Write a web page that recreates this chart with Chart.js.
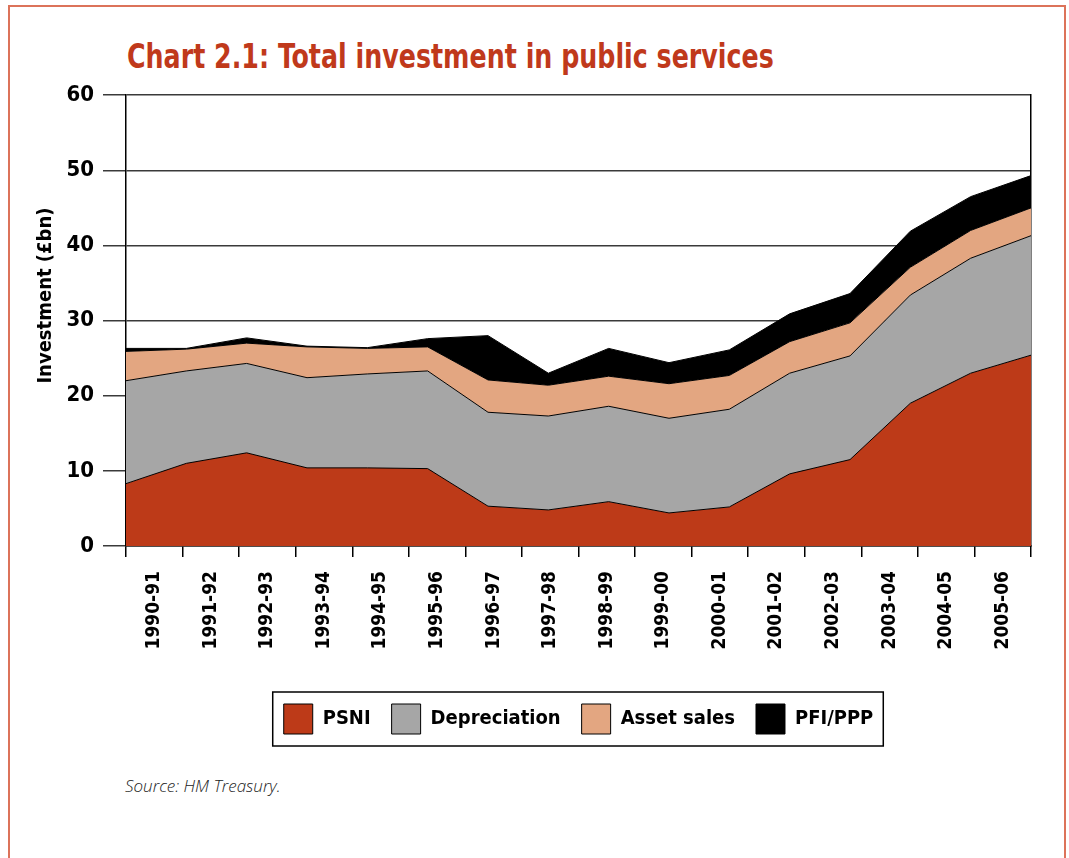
<!DOCTYPE html>
<html>
<head>
<meta charset="utf-8">
<script src="https://cdn.jsdelivr.net/npm/chart.js@4.4.1/dist/chart.umd.min.js"></script>
<style>
  html, body { margin: 0; padding: 0; background: #fff; }
  body { width: 1069px; height: 858px; position: relative; overflow: hidden; }
  .frame {
    position: absolute; left: 8px; top: 5px; width: 1054px; height: 900px;
    border: 2px solid #dc735a;
  }
  h1 {
    position: absolute; left: 127px; top: 37px; margin: 0;
    font-family: "DejaVu Sans Condensed", "Liberation Sans", sans-serif;
    font-weight: bold; font-size: 33px; color: #c0391b;
    transform: scaleX(0.853); transform-origin: left top; white-space: nowrap;
  }
  .source {
    position: absolute; left: 125px; top: 774px; margin: 0;
    font-family: "Open Sans", "Liberation Sans", sans-serif;
    font-style: italic; font-weight: 300; font-size: 17px; color: #222;
  }
  .wrap { position: absolute; left: 0; top: 73px; width: 1069px; height: 691px; }
</style>
</head>
<body>
<div class="frame"></div>
<h1>Chart 2.1: Total investment in public services</h1>
<div class="wrap"><canvas id="chart"></canvas></div>
<p class="source">Source: HM Treasury.</p>

<script>
// years on the x axis
const years = ['1990-91', '1991-92', '1992-93', '1993-94', '1994-95', '1995-96', '1996-97', '1997-98',
               '1998-99', '1999-00', '2000-01', '2001-02', '2002-03', '2003-04', '2004-05', '2005-06'];

// £bn, stacked bottom to top
const psni         = [8.3, 11.0, 12.4, 10.4, 10.4, 10.3, 5.3, 4.8, 5.9, 4.4, 5.2, 9.6, 11.5, 19.0, 23.0, 25.4];
const depreciation = [13.7, 12.3, 11.9, 12.0, 12.5, 13.0, 12.5, 12.5, 12.7, 12.6, 13.0, 13.4, 13.8, 14.4, 15.3, 15.9];
const assetSales   = [3.9, 2.9, 2.7, 4.1, 3.4, 3.2, 4.3, 4.1, 4.0, 4.6, 4.5, 4.2, 4.4, 3.7, 3.7, 3.7];
const pfiPpp       = [0.4, 0.1, 0.7, 0.1, 0.1, 1.1, 5.9, 1.6, 3.7, 2.8, 3.4, 3.7, 3.9, 4.8, 4.5, 4.3];

const yTicks = [0, 10, 20, 30, 40, 50, 60];

const FONT = '"DejaVu Sans Condensed", "Liberation Sans", sans-serif';

function layer(label, data, colour, fill) {
  return {
    label: label,
    data: data,
    backgroundColor: colour,
    borderColor: '#000',
    borderWidth: 1,
    fill: fill,
    pointRadius: 0,
    tension: 0,
    xAxisID: 'x'
  };
}

// box round the legend
const legendFrame = {
  id: 'legendFrame',
  afterDraw(chart) {
    const boxes = chart.legend.legendHitBoxes;
    if (!boxes || !boxes.length) return;
    const first = boxes[0], last = boxes[boxes.length - 1];
    const left = first.left - 11, right = last.left + last.width + 10;
    const top = first.top - 12, bottom = first.top + first.height + 12;
    const ctx = chart.ctx;
    ctx.save();
    ctx.strokeStyle = '#000';
    ctx.lineWidth = 1.5;
    ctx.strokeRect(left, top, right - left, bottom - top);
    ctx.restore();
  }
};

new Chart(document.getElementById('chart'), {
  type: 'line',
  data: {
    labels: years,
    datasets: [
      layer('PSNI', psni, '#bd3a18', 'origin'),
      layer('Depreciation', depreciation, '#a6a6a6', '-1'),
      layer('Asset sales', assetSales, '#e3a681', '-1'),
      layer('PFI/PPP', pfiPpp, '#000000', '-1')
    ]
  },
  options: {
    responsive: true,
    maintainAspectRatio: false,
    animation: false,
    layout: { padding: { top: 0, right: 38, bottom: 20, left: 0 } },
    plugins: {
      legend: {
        position: 'bottom',
        fullSize: false,
        labels: {
          boxWidth: 29,
          boxHeight: 30,
          padding: 21,
          color: '#000',
          font: { family: FONT, size: 20, weight: 'bold' }
        }
      },
      tooltip: { enabled: false }
    },
    scales: {
      // data points sit on the plot edges
      x: {
        type: 'category',
        display: false,
        offset: false
      },
      // labels and tick marks centred between points
      x2: {
        type: 'category',
        labels: years,
        position: 'bottom',
        offset: true,
        grid: { offset: true, drawOnChartArea: false, color: '#000', lineWidth: 1.5, tickLength: 11 },
        border: { display: true, color: '#000', width: 1.5 },
        ticks: {
          minRotation: 90, maxRotation: 90, autoSkip: false, padding: 14,
          color: '#000', font: { family: FONT, size: 19, weight: 'bold' }
        },
        afterFit(scale) { scale.height = 137; }
      },
      y: {
        stacked: true,
        min: 0, max: 60,
        afterBuildTicks(scale) { scale.ticks = yTicks.map(v => ({ value: v })); },
        grid: { color: '#3a3a3a', lineWidth: 1.5, tickLength: 23 },
        border: { display: true, color: '#000', width: 1.5 },
        ticks: {
          padding: 9,
          color: '#000', font: { family: FONT, size: 22, weight: 'bold' }
        },
        title: {
          display: true,
          // leading spaces lift the title above the axis middle
          text: '\u00a0'.repeat(8) + 'Investment (£bn)',
          color: '#000',
          padding: { top: 34, bottom: 0 },
          font: { family: FONT, size: 20, weight: 'bold' }
        },
        afterFit(scale) { scale.width = 126; }
      },
      // right-hand edge of the plot
      y2: {
        position: 'right',
        min: 0, max: 60,
        grid: { display: false },
        border: { display: true, color: '#000', width: 1.5 },
        ticks: { display: false },
        afterFit(scale) { scale.width = 0; }
      }
    }
  },
  plugins: [legendFrame]
});
</script>
</body>
</html>
